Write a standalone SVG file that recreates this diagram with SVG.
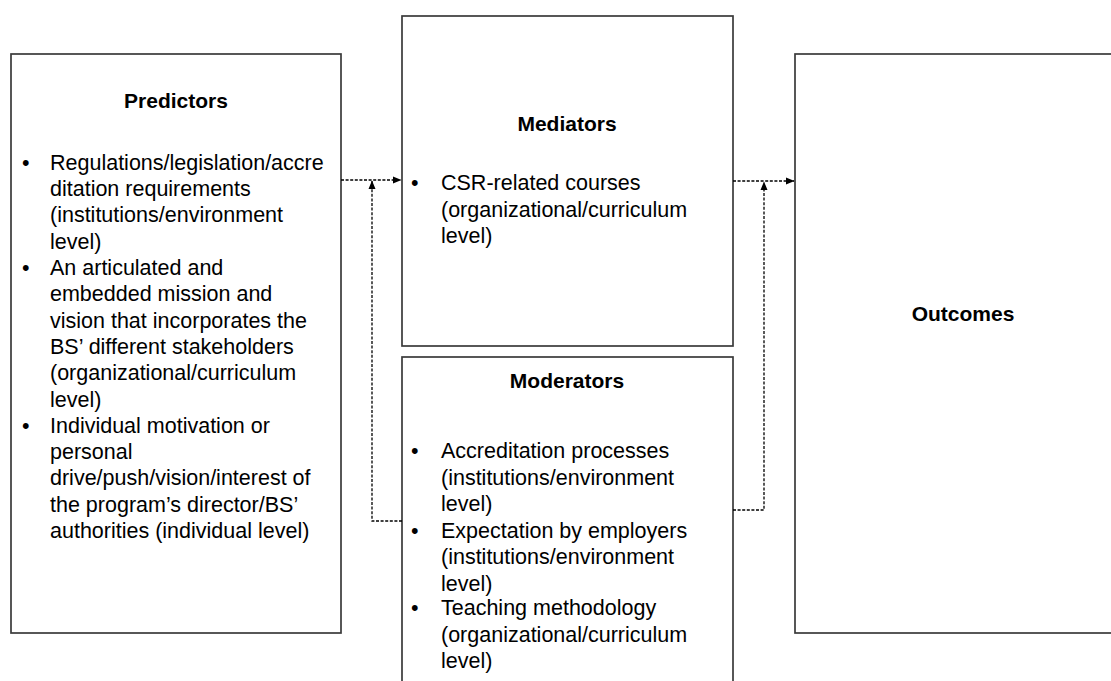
<svg xmlns="http://www.w3.org/2000/svg" width="1111" height="681" viewBox="0 0 1111 681">
<style>
.box{fill:#fff;stroke:#3a3a3a;stroke-width:1.7}
.t{font-family:"Liberation Sans",Arial,sans-serif;font-size:21.5px;fill:#000}
.h{font-weight:bold;text-anchor:middle;font-size:21px}
.c{fill:none;stroke:#000;stroke-width:1.3;stroke-dasharray:3 1.6}
</style>
<defs>
<marker id="ah" markerWidth="9" markerHeight="9" refX="8" refY="4.5" orient="auto" markerUnits="userSpaceOnUse">
<path d="M0,1 L8.5,4.5 L0,8 Z" fill="#000"/>
</marker>
</defs>
<rect width="1111" height="681" fill="#fff"/>
<g id="predictors">
<rect class="box" x="11" y="54" width="330" height="579"/>
<text class="t h" x="176" y="108">Predictors</text>
<g class="t">
<text x="22" y="170">•</text>
<text x="50" y="170">Regulations/legislation/accre</text>
<text x="50" y="196">ditation requirements</text>
<text x="50" y="222">(institutions/environment</text>
<text x="50" y="249">level)</text>
<text x="22" y="275">•</text>
<text x="50" y="275">An articulated and</text>
<text x="50" y="301">embedded mission and</text>
<text x="50" y="328">vision that incorporates the</text>
<text x="50" y="354">BS’ different stakeholders</text>
<text x="50" y="380">(organizational/curriculum</text>
<text x="50" y="407">level)</text>
<text x="22" y="433">•</text>
<text x="50" y="433">Individual motivation or</text>
<text x="50" y="459">personal</text>
<text x="50" y="485">drive/push/vision/interest of</text>
<text x="50" y="512">the program’s director/BS’</text>
<text x="50" y="538">authorities (individual level)</text>
</g>
</g>
<g id="mediators">
<rect class="box" x="402" y="16" width="331" height="330"/>
<text class="t h" x="567" y="131">Mediators</text>
<g class="t">
<text x="411" y="190">•</text>
<text x="441" y="190">CSR-related courses</text>
<text x="441" y="217">(organizational/curriculum</text>
<text x="441" y="243">level)</text>
</g>
</g>
<g id="moderators">
<rect class="box" x="402" y="357" width="331" height="340"/>
<text class="t h" x="567" y="388">Moderators</text>
<g class="t">
<text x="411" y="458">•</text>
<text x="441" y="458">Accreditation processes</text>
<text x="441" y="484.5">(institutions/environment</text>
<text x="441" y="511">level)</text>
<text x="411" y="537.5">•</text>
<text x="441" y="537.5">Expectation by employers</text>
<text x="441" y="564">(institutions/environment</text>
<text x="441" y="590.5">level)</text>
<text x="411" y="615">•</text>
<text x="441" y="615">Teaching methodology</text>
<text x="441" y="641.5">(organizational/curriculum</text>
<text x="441" y="668">level)</text>
</g>
</g>
<g id="outcomes">
<rect class="box" x="795" y="54" width="330" height="579"/>
<text class="t h" x="963" y="321">Outcomes</text>
</g>
<g id="connectors">
<path class="c" d="M341,180 H401" marker-end="url(#ah)"/>
<path class="c" d="M402,521 H372 V181" marker-end="url(#ah)"/>
<path class="c" d="M733,181 H794" marker-end="url(#ah)"/>
<path class="c" d="M733,510 H764 V182" marker-end="url(#ah)"/>
</g>
</svg>
